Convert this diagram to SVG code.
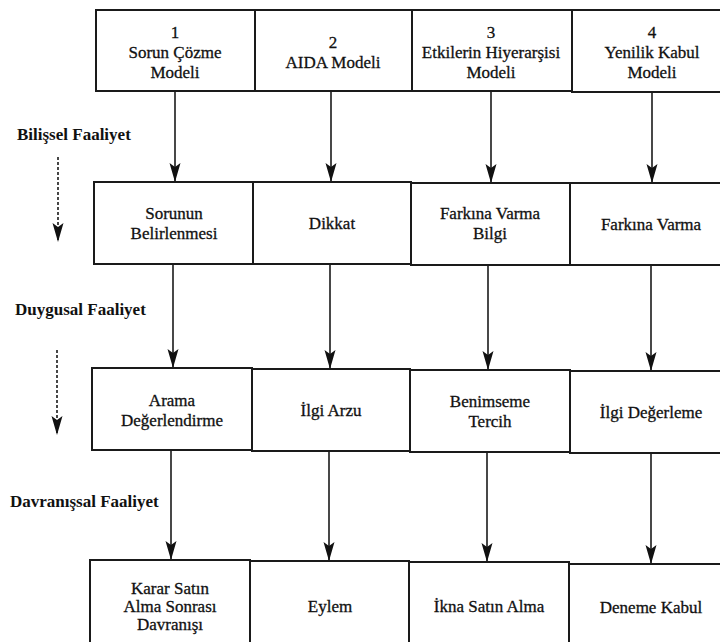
<svg xmlns="http://www.w3.org/2000/svg" width="720" height="642" viewBox="0 0 720 642">
<style>
  .box { fill: #ffffff; stroke: #1a1a1a; stroke-width: 2; }
  .t { font-family: 'Liberation Serif', 'DejaVu Serif', serif; font-size: 17px; fill: #111111; stroke: #111111; stroke-width: 0.3; text-anchor: middle; }
  .lbl { font-family: 'Liberation Serif', 'DejaVu Serif', serif; font-size: 17px; font-weight: bold; fill: #111111; }
  .conn { stroke: #1a1a1a; stroke-width: 1.6; fill: none; marker-end: url(#ah); }
  .dash { stroke: #1a1a1a; stroke-width: 1.6; fill: none; stroke-dasharray: 3 2; marker-end: url(#ah); }
</style>
<defs>
  <marker id="ah" markerUnits="userSpaceOnUse" markerWidth="24" markerHeight="14" refX="0" refY="0" orient="auto" overflow="visible">
    <path d="M0,0 L-19,-5.5 L-15,0 L-19,5.5 Z" fill="#111111"/>
  </marker>
</defs>
<rect width="720" height="642" fill="#ffffff"/>

<g id="labels">
  <text class="lbl" x="17" y="140">Bilişsel Faaliyet</text>
  <text class="lbl" x="15" y="315">Duygusal Faaliyet</text>
  <text class="lbl" x="10" y="507">Davranışsal Faaliyet</text>
</g>

<g id="connectors">
  <line class="dash" x1="58" y1="157" x2="58" y2="242"/>
  <line class="dash" x1="57" y1="350" x2="57" y2="435"/>

  <line class="conn" x1="175" y1="91" x2="175" y2="182"/>
  <line class="conn" x1="331" y1="91" x2="331" y2="182"/>
  <line class="conn" x1="491" y1="92" x2="491" y2="183"/>
  <line class="conn" x1="652" y1="92" x2="652" y2="183"/>

  <line class="conn" x1="173" y1="264" x2="173" y2="368"/>
  <line class="conn" x1="330" y1="264" x2="330" y2="369"/>
  <line class="conn" x1="488" y1="264" x2="488" y2="370"/>
  <line class="conn" x1="651" y1="265" x2="651" y2="371"/>

  <line class="conn" x1="171" y1="450" x2="171" y2="560"/>
  <line class="conn" x1="329" y1="451" x2="329" y2="561"/>
  <line class="conn" x1="487" y1="452" x2="487" y2="562"/>
  <line class="conn" x1="651" y1="453" x2="651" y2="564"/>
</g>

<g id="n-sorun-cozme">
  <rect class="box" x="96" y="10" width="159" height="81"/>
  <text class="t" x="175" y="38">1</text>
  <text class="t" x="175" y="58">Sorun Çözme</text>
  <text class="t" x="175" y="78">Modeli</text>
</g>
<g id="n-aida">
  <rect class="box" x="255" y="10" width="157" height="81"/>
  <text class="t" x="333" y="48">2</text>
  <text class="t" x="333" y="68">AIDA Modeli</text>
</g>
<g id="n-etkilerin">
  <rect class="box" x="412" y="10" width="160" height="81"/>
  <text class="t" x="491" y="38">3</text>
  <text class="t" x="491" y="58">Etkilerin Hiyerarşisi</text>
  <text class="t" x="491" y="78">Modeli</text>
</g>
<g id="n-yenilik">
  <rect class="box" x="572" y="10" width="170" height="82"/>
  <text class="t" x="652" y="38">4</text>
  <text class="t" x="652" y="58">Yenilik Kabul</text>
  <text class="t" x="652" y="78">Modeli</text>
</g>

<g id="n-sorunun-belirlenmesi">
  <rect class="box" x="94" y="182" width="159" height="82"/>
  <text class="t" x="174" y="219">Sorunun</text>
  <text class="t" x="174" y="239">Belirlenmesi</text>
</g>
<g id="n-dikkat">
  <rect class="box" x="253" y="182" width="158" height="82"/>
  <text class="t" x="332" y="229">Dikkat</text>
</g>
<g id="n-farkina-bilgi">
  <rect class="box" x="411" y="183" width="159" height="82"/>
  <text class="t" x="490" y="219">Farkına Varma</text>
  <text class="t" x="490" y="239">Bilgi</text>
</g>
<g id="n-farkina">
  <rect class="box" x="570" y="183" width="170" height="82"/>
  <text class="t" x="651" y="230">Farkına Varma</text>
</g>

<g id="n-arama">
  <rect class="box" x="92" y="368" width="160" height="82"/>
  <text class="t" x="172" y="406">Arama</text>
  <text class="t" x="172" y="426">Değerlendirme</text>
</g>
<g id="n-ilgi-arzu">
  <rect class="box" x="252" y="369" width="158" height="82"/>
  <text class="t" x="331" y="416">İlgi Arzu</text>
</g>
<g id="n-benimseme">
  <rect class="box" x="410" y="370" width="160" height="82"/>
  <text class="t" x="490" y="407">Benimseme</text>
  <text class="t" x="490" y="427">Tercih</text>
</g>
<g id="n-ilgi-degerleme">
  <rect class="box" x="570" y="371" width="170" height="82"/>
  <text class="t" x="651" y="418">İlgi Değerleme</text>
</g>

<g id="n-karar">
  <rect class="box" x="90" y="560" width="160" height="90"/>
  <text class="t" x="170" y="594">Karar Satın</text>
  <text class="t" x="170" y="612">Alma Sonrası</text>
  <text class="t" x="170" y="630">Davranışı</text>
</g>
<g id="n-eylem">
  <rect class="box" x="250" y="561" width="159" height="90"/>
  <text class="t" x="330" y="612">Eylem</text>
</g>
<g id="n-ikna">
  <rect class="box" x="409" y="562" width="160" height="90"/>
  <text class="t" x="489" y="612">İkna Satın Alma</text>
</g>
<g id="n-deneme">
  <rect class="box" x="569" y="564" width="171" height="90"/>
  <text class="t" x="651" y="613">Deneme Kabul</text>
</g>
</svg>
